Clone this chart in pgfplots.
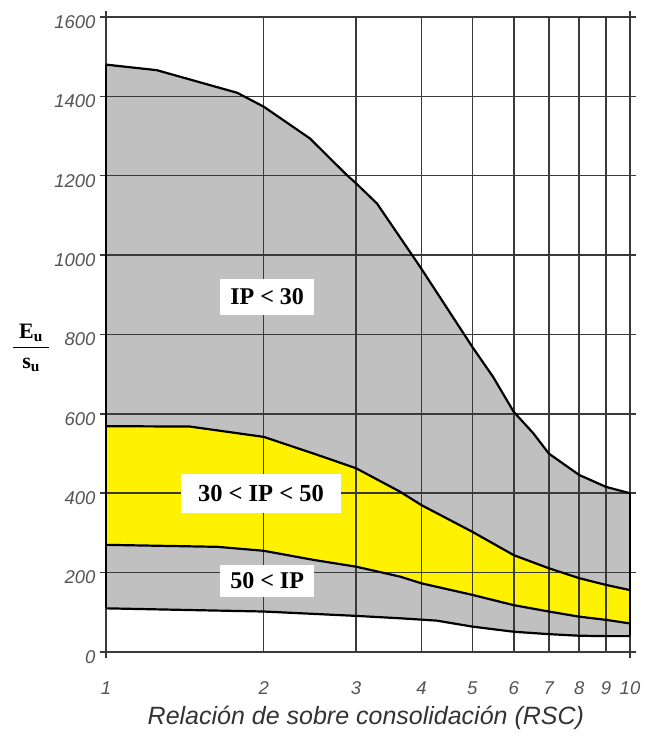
\documentclass[border=0pt]{standalone}
\usepackage{fontspec}
\setmainfont{Liberation Serif}
\setsansfont{Liberation Sans}
\usepackage{pgfplots}
\pgfplotsset{compat=1.18}
\definecolor{fillgray}{HTML}{C0C0C0}
\definecolor{gridc}{HTML}{3A3A3A}
\definecolor{lab}{HTML}{555555}
\definecolor{xlab}{HTML}{333333}
\begin{document}
\begin{tikzpicture}
\begin{axis}[
  set layers,
  scale only axis, width=524pt, height=635pt,
  xmode=log, xmin=1, xmax=10, ymin=0, ymax=1600,
  xtick={1,10}, xticklabels={1,10},
  minor tick length=0pt,
  extra x ticks={2,3,4,5,6,7,8,9},
  extra x tick labels={2,3,4,5,6,7,8,9},
  extra x tick style={major tick length=0pt, grid=major, xticklabel style={yshift=-6pt}},
  ytick={0,200,...,1600},
  grid=major,
  major grid style={draw=gridc, line width=1.5pt},
  axis line style={draw=gridc, line width=1.5pt},
  tick style={draw=gridc, line width=1.5pt},
  tick align=outside, major tick length=6pt,
  /pgf/number format/1000 sep={},
  /pgf/number format/assume math mode=true,
  ticklabel style={font=\fontsize{18.5}{20}\selectfont\sffamily\itshape, text=lab},
  xticklabel style={anchor=center, yshift=-30pt},
  yticklabel style={xshift=-1pt, yshift=-5pt},
  xlabel={Relación de sobre consolidación (RSC)},
  xlabel style={font=\fontsize{25}{28}\selectfont\sffamily\itshape, text=xlab, at={(axis description cs:0.496,-0.104)}, anchor=center},
  ylabel={\setlength{\arrayrulewidth}{1.5pt}\begin{tabular}{@{\hspace{6pt}}c@{\hspace{6pt}}}E\textsubscript{u}\\[1pt]\hline\rule{0pt}{20pt}s\textsubscript{u}\end{tabular}},
  ylabel style={font=\fontsize{22}{24}\selectfont\bfseries, rotate=-90, at={(axis description cs:-0.143,0.478)}, anchor=center},
  clip=false,
]
% gray region: upper curve, then lower curve reversed
\addplot[fill=fillgray, draw=none, on layer=axis background] coordinates {
(1,1480)(1.25,1466)(1.78,1409)(2,1374)(2.45,1294)(2.88,1202)(3,1181)(3.29,1130)(3.97,972)(5,769)(5.48,693)(6,605)(6.54,551)(7,500)(8,446)(9,416)(10,400)
(10,40)(9,40)(8,41)(7,45)(6,51)(5,64)(4.28,79)(3.64,85)(3,91)(2,102)(1,110)} -- cycle;
% yellow region
\addplot[fill=yellow, draw=none, on layer=axis background] coordinates {
(1,569)(1.446,568)(2,542)(2.49,500)(3,463)(3.64,404)(4,370)(5,303)(6,244)(7,211)(8,186)(9,169)(10,156)
(10,72)(9,81)(8,89)(7,102)(6,118)(5,144)(4,173)(3.64,190)(3,215)(2.49,232)(2,255)(1.63,265)(1,270)} -- cycle;
\addplot[black, line width=2.2pt] coordinates {
(1,1480)(1.25,1466)(1.78,1409)(2,1374)(2.45,1294)(2.88,1202)(3,1181)(3.29,1130)(3.97,972)(5,769)(5.48,693)(6,605)(6.54,551)(7,500)(8,446)(9,416)(10,400)};
\addplot[black, line width=2.2pt] coordinates {
(1,110)(2,102)(3,91)(3.64,85)(4.28,79)(5,64)(6,51)(7,45)(8,41)(9,40)(10,40)};
\addplot[black, line width=2.2pt] coordinates {
(1,569)(1.446,568)(2,542)(2.49,500)(3,463)(3.64,404)(4,370)(5,303)(6,244)(7,211)(8,186)(9,169)(10,156)};
\addplot[black, line width=2.2pt] coordinates {
(1,270)(1.63,265)(2,255)(2.49,232)(3,215)(3.64,190)(4,173)(5,144)(6,118)(7,102)(8,89)(9,81)(10,72)};
\addplot[black, line width=2.2pt] coordinates {(1,110)(1,1480)};
\addplot[black, line width=2.2pt] coordinates {(10,40)(10,400)};
\node[fill=white, inner xsep=10pt, inner ysep=10pt, font=\fontsize{24}{26}\selectfont\bfseries] at (axis cs:2.03,895) {IP < 30};
\node[fill=white, inner xsep=17pt, inner ysep=11pt, font=\fontsize{24.5}{26}\selectfont\bfseries] at (axis cs:1.976,400) {30 < IP < 50};
\node[fill=white, inner xsep=10pt, inner ysep=8pt, font=\fontsize{24}{26}\selectfont\bfseries] at (axis cs:2.03,179) {50 < IP};
\end{axis}
\path (-106pt,-86pt) rectangle (540pt,652pt);
\end{tikzpicture}
\end{document}
